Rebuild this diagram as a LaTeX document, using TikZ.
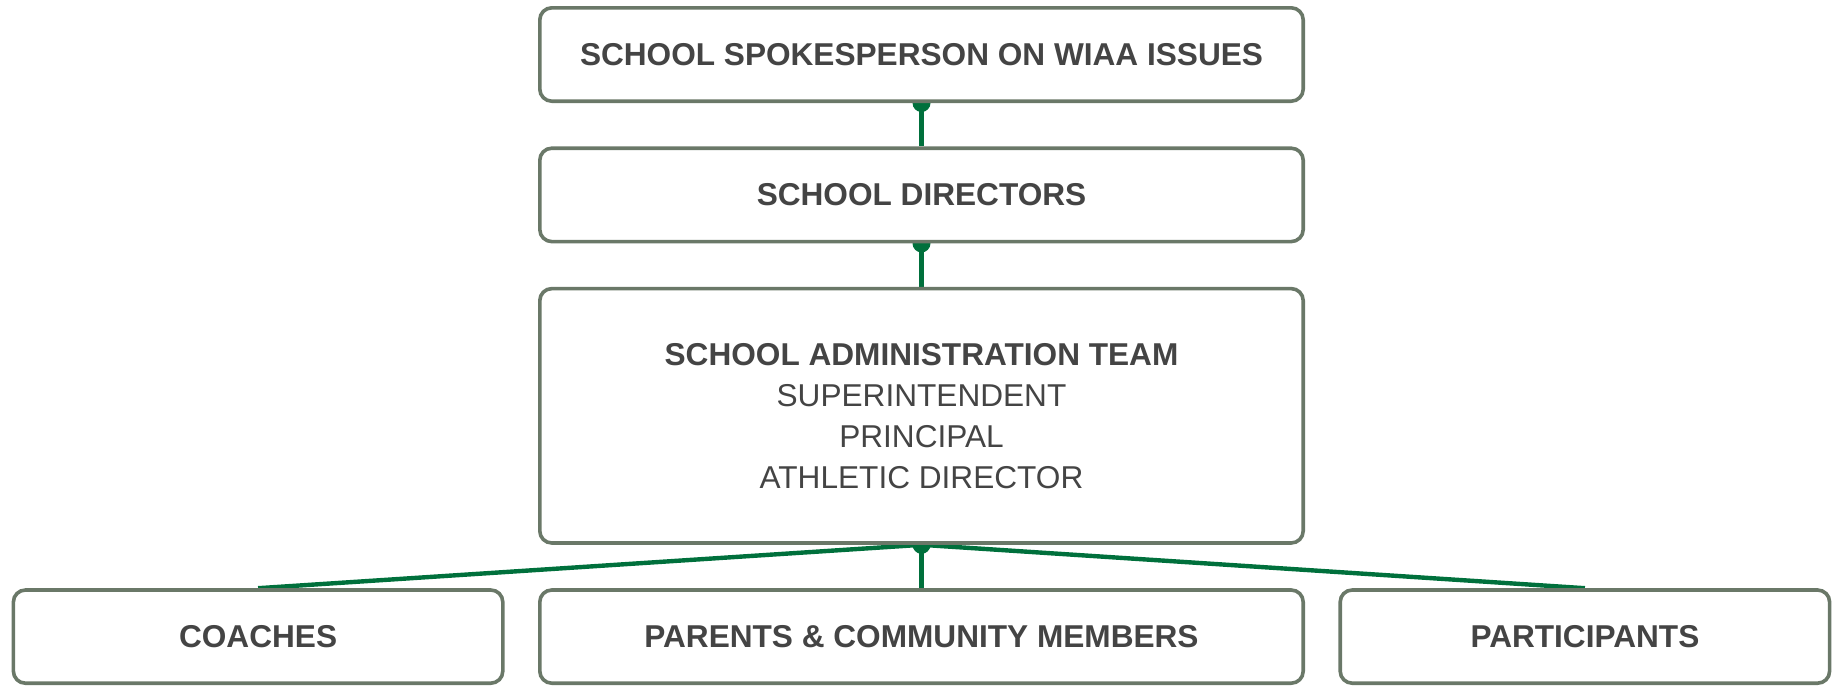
\documentclass[tikz,border=0pt]{standalone}
\usepackage{fontspec}
\setmainfont{Liberation Sans}
\usetikzlibrary{positioning,backgrounds}
\definecolor{boxline}{HTML}{6A7868}
\definecolor{linkgreen}{HTML}{00703C}
\definecolor{txt}{HTML}{444444}
\begin{document}
\begin{tikzpicture}[node distance={21.7pt}, line width=1.8pt,
  box/.style = {draw=boxline, fill=white, rounded corners=6pt, minimum width=381.7pt, minimum height=46.7pt, text=txt, align=center, font=\fontsize{15.8}{20.5}\selectfont\bfseries},
  small/.style = {minimum width=244.7pt, minimum height=46.6pt},
  link/.style = {draw=linkgreen, line width=2.2pt}]
\useasboundingbox (0,0) rectangle (918.5pt,-343pt);
\node[box] (spokes) at (460.75pt,-27.25pt) {SCHOOL SPOKESPERSON ON WIAA ISSUES};
\node[box] (directors) [below=of spokes] {SCHOOL DIRECTORS};
\node[box, minimum height=127.2pt] (admin) [below=of directors] {SCHOOL ADMINISTRATION TEAM\\ \mdseries SUPERINTENDENT\\ \mdseries PRINCIPAL\\ \mdseries ATHLETIC DIRECTOR};
\node[box, minimum height=46.6pt] (parents) [below=of admin] {PARENTS \& COMMUNITY MEMBERS};
\node[box, small] (coaches) [left=16.7pt of parents] {COACHES};
\node[box, small] (participants) [right=16.7pt of parents] {PARTICIPANTS};
\begin{scope}[on background layer]
\draw[link] (spokes.south) -- (directors.north);
\draw[link] (directors.south) -- (admin.north);
\draw[link] (admin.south) -- (coaches.north);
\draw[link] (admin.south) -- (parents.north);
\draw[link] (admin.south) -- (participants.north);
\fill[linkgreen] (spokes.south) circle (4.5pt);
\fill[linkgreen] (directors.south) circle (4.5pt);
\fill[linkgreen] (admin.south) circle (4.5pt);
\end{scope}
\end{tikzpicture}
\end{document}
